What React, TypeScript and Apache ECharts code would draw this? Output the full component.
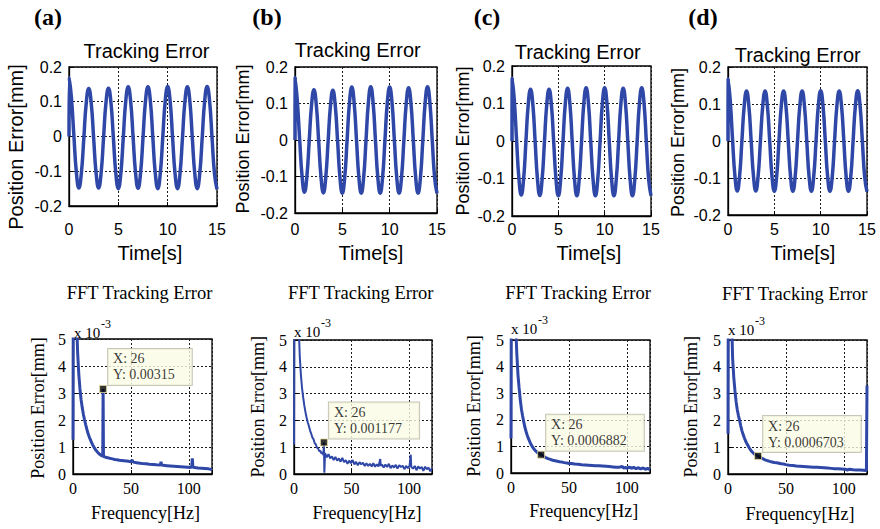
import React, { useEffect, useRef } from 'react';
import * as echarts from 'echarts';

// ---------- DATA ----------
const PANEL_LETTERS = ['(a)', '(b)', '(c)', '(d)'];
const TOP_TITLE = 'Tracking Error';
const BOTTOM_TITLE = 'FFT Tracking Error';
const TOP_Y_NAME = 'Position Error[mm]';
const TOP_X_NAME = 'Time[s]';
const BOTTOM_Y_NAME = 'Position Error[mm]';
const BOTTOM_X_NAME = 'Frequency[Hz]';
const SCALE_TEXT = 'x 10';
const SCALE_EXP = '-3';

// time-domain error, sampled every 0.25 s starting at t = 0.25 s (mm)
const TIME_STEP = 0.25;
const START_SPIKE = [0.17, 0.172, 0.168, 0.168];
const ERR_A = [
  0.11, 0.0, -0.104, -0.148, -0.106, -0.006, 0.097, 0.138, 0.097, -0.006, -0.106, -0.148,
  -0.106, -0.005, 0.098, 0.139, 0.098, -0.005, -0.107, -0.15, -0.107, -0.004, 0.101, 0.143,
  0.101, -0.004, -0.106, -0.149, -0.106, -0.004, 0.101, 0.143, 0.101, -0.005, -0.107, -0.15,
  -0.107, -0.004, 0.102, 0.144, 0.102, -0.004, -0.107, -0.15, -0.107, -0.004, 0.101, 0.143,
  0.101, -0.005, -0.107, -0.15, -0.107, -0.004, 0.102, 0.144, 0.102, -0.005, -0.108, -0.152,
];
const ERR_B = [
  0.105, -0.002, -0.1, -0.143, -0.101, -0.003, 0.096, 0.138, 0.096, -0.003, -0.102, -0.145,
  -0.102, -0.003, 0.095, 0.136, 0.095, -0.003, -0.103, -0.146, -0.103, -0.002, 0.101, 0.145,
  0.101, -0.002, -0.103, -0.146, -0.103, -0.002, 0.102, 0.146, 0.102, -0.002, -0.103, -0.146,
  -0.103, -0.002, 0.102, 0.145, 0.102, -0.002, -0.103, -0.146, -0.103, -0.002, 0.1, 0.143,
  0.1, -0.002, -0.103, -0.146, -0.103, -0.002, 0.102, 0.146, 0.102, -0.002, -0.103, -0.146,
];
const ERR_C = [
  0.108, 0.0, -0.101, -0.144, -0.102, -0.003, 0.097, 0.138, 0.097, -0.003, -0.102, -0.145,
  -0.102, -0.003, 0.097, 0.138, 0.097, -0.003, -0.103, -0.146, -0.103, -0.003, 0.099, 0.141,
  0.099, -0.003, -0.103, -0.146, -0.103, -0.003, 0.1, 0.142, 0.1, -0.003, -0.103, -0.146,
  -0.103, -0.003, 0.1, 0.142, 0.1, -0.003, -0.103, -0.146, -0.103, -0.003, 0.099, 0.141,
  0.099, -0.003, -0.103, -0.146, -0.103, -0.003, 0.1, 0.142, 0.1, -0.003, -0.103, -0.146,
];
const ERR_D = [
  0.106, 0.0, -0.095, -0.135, -0.095, 0.0, 0.095, 0.135, 0.095, 0.0, -0.095, -0.135,
  -0.095, 0.0, 0.095, 0.135, 0.095, 0.0, -0.096, -0.136, -0.096, 0.0, 0.095, 0.135,
  0.095, 0.0, -0.096, -0.136, -0.096, 0.0, 0.095, 0.135, 0.095, 0.0, -0.096, -0.136,
  -0.096, 0.0, 0.096, 0.136, 0.096, 0.0, -0.096, -0.136, -0.096, 0.0, 0.095, 0.135,
  0.095, 0.0, -0.096, -0.136, -0.096, 0.0, 0.096, 0.136, 0.096, 0.0, -0.097, -0.137,
];
const TOP_ERRORS = [ERR_A, ERR_B, ERR_C, ERR_D];

// FFT magnitude, [frequency Hz, value x 1e-3 mm]
const FFT_A = [
  [0, 1.27], [0.5, 12], [1, 14], [2, 9], [3, 5.8], [4, 4.5], [5, 3.7], [6, 3.15], [7, 2.75],
  [8, 2.45], [9, 2.2], [10, 2.0], [11, 1.82], [12, 1.65], [13, 1.5], [14, 1.38], [15, 1.27],
  [16, 1.17], [17, 1.08], [18, 1.0], [19, 0.93], [20, 0.87], [21, 0.82], [22, 0.77], [23, 0.73],
  [24, 0.7], [25, 0.67], [25.7, 0.66], [26, 3.15], [26.3, 0.65], [27, 0.64], [28, 0.62],
  [30, 0.6], [32, 0.58], [34, 0.56], [36, 0.54], [38, 0.53], [40, 0.51], [42, 0.5], [44, 0.49],
  [46, 0.48], [48, 0.47], [50, 0.45], [51, 0.52], [52, 0.44], [55, 0.42], [58, 0.4], [60, 0.39],
  [63, 0.38], [66, 0.36], [69, 0.35], [72, 0.34], [75.5, 0.33], [76, 0.45], [76.5, 0.33],
  [78, 0.32], [81, 0.31], [84, 0.3], [87, 0.29], [90, 0.28], [93, 0.27], [96, 0.26], [99, 0.25],
  [102.5, 0.25], [103, 0.58], [103.5, 0.25], [105, 0.24], [108, 0.22], [111, 0.21], [114, 0.2],
  [117, 0.19], [120, 0.17],
];
const FFT_B = [
  [0, 1.1], [0.5, 10], [1, 12], [2, 10], [3, 7.5], [4, 5.6], [5, 4.4], [6, 3.7], [7, 3.2],
  [8, 2.85], [9, 2.55], [10, 2.3], [11, 2.1], [12, 1.92], [13, 1.78], [14, 1.62], [15, 1.5],
  [16, 1.36], [17, 1.3], [18, 1.15], [19, 1.1], [20, 0.98], [21, 0.95], [22, 0.85], [23, 0.86],
  [24, 0.76], [25, 0.8], [25.6, 0.7], [26, 1.177], [26.4, 0.05], [27, 0.78], [28.5, 0.62],
  [30, 0.74], [31.5, 0.58], [33, 0.66], [34.5, 0.52], [36, 0.64], [37.5, 0.5], [39, 0.58],
  [40.5, 0.46], [42, 0.6], [43.5, 0.44], [45, 0.52], [46.5, 0.38], [48, 0.5], [49.5, 0.4],
  [51, 0.52], [52.5, 0.36], [54, 0.45], [55.5, 0.33], [57, 0.44], [58.5, 0.36], [60, 0.42],
  [61.5, 0.3], [63, 0.4], [64.5, 0.3], [66, 0.38], [67.5, 0.28], [69, 0.4], [70.5, 0.27],
  [72, 0.36], [73.5, 0.28], [75, 0.56], [75.5, 0.3], [76.5, 0.36], [78, 0.24], [79.5, 0.35],
  [81, 0.26], [82.5, 0.38], [84, 0.22], [85.5, 0.32], [87, 0.24], [88.5, 0.34], [90, 0.2],
  [91.5, 0.33], [93, 0.26], [94.5, 0.31], [96, 0.18], [97.5, 0.3], [99, 0.22], [100.5, 0.3],
  [101.5, 0.72], [102, 0.26], [103.5, 0.2], [105, 0.3], [106.5, 0.14], [108, 0.28],
  [109.5, 0.2], [111, 0.26], [112.5, 0.12], [114, 0.27], [115.5, 0.18], [117, 0.24],
  [118.5, 0.1], [120, 0.22],
];
const FFT_C = [
  [0, 1.3], [0.5, 11], [1, 13], [2, 10], [3, 7.5], [4, 5.6], [5, 4.5], [6, 3.7], [7, 3.2],
  [8, 2.75], [9, 2.4], [10, 2.15], [11, 1.92], [12, 1.72], [13, 1.56], [14, 1.42], [15, 1.3],
  [16, 1.2], [17, 1.1], [18, 1.02], [19, 0.95], [20, 0.89], [21, 0.84], [22, 0.8], [23, 0.76],
  [24, 0.73], [25, 0.71], [26, 0.688], [27, 0.66], [28, 0.63], [30, 0.58], [32, 0.54],
  [34, 0.51], [36, 0.48], [38, 0.46], [40, 0.44], [42, 0.42], [44, 0.41], [46, 0.39],
  [48, 0.38], [50, 0.36], [52, 0.36], [55, 0.34], [58, 0.33], [61, 0.31], [64, 0.3],
  [67, 0.29], [70, 0.28], [73, 0.27], [76, 0.27], [79, 0.26], [82, 0.25], [85, 0.24],
  [88, 0.23], [91, 0.22], [94, 0.22], [96, 0.25], [97, 0.19], [99, 0.21], [100, 0.17],
  [102, 0.22], [104, 0.18], [106, 0.21], [108, 0.16], [110, 0.2], [112, 0.15], [114, 0.19],
  [116, 0.14], [118, 0.17], [120, 0.13],
];
const FFT_D = [
  [0, 1.5], [0.5, 12], [1, 14], [2, 9.5], [3, 6], [4, 4.3], [5, 3.6], [6, 3.1], [7, 2.7],
  [8, 2.4], [9, 2.18], [10, 2.0], [11, 1.8], [12, 1.62], [13, 1.48], [14, 1.36], [15, 1.25],
  [16, 1.16], [17, 1.08], [18, 1.0], [19, 0.93], [20, 0.87], [21, 0.82], [22, 0.78], [23, 0.74],
  [24, 0.71], [25, 0.69], [26, 0.6703], [27, 0.65], [28, 0.62], [30, 0.57], [32, 0.53],
  [34, 0.5], [36, 0.47], [38, 0.45], [40, 0.43], [42, 0.42], [44, 0.4], [46, 0.38], [48, 0.37],
  [50, 0.35], [53, 0.33], [56, 0.32], [59, 0.3], [62, 0.29], [65, 0.28], [68, 0.27], [71, 0.26],
  [74, 0.25], [77, 0.25], [80, 0.24], [83, 0.23], [86, 0.22], [89, 0.21], [92, 0.2], [95, 0.2],
  [98, 0.19], [101, 0.18], [103, 0.15], [105, 0.18], [108, 0.16], [111, 0.15], [114, 0.15],
  [117, 0.14], [119.5, 0.13], [120, 3.3],
];
const FFT_DATA = [FFT_A, FFT_B, FFT_C, FFT_D];

// data tips (X in Hz, Y in mm)
const TIP_X = [26, 26, 26, 26];
const TIP_Y = [0.00315, 0.001177, 0.0006882, 0.0006703];

// ---------- LAYOUT ----------
const SANS = "'Liberation Sans', Arial, Helvetica, sans-serif";
const SERIF = "'Liberation Serif', 'Times New Roman', Times, serif";
const BLUE = '#2f48a8';

const TOP_GRIDS = [
  { left: 69, top: 67, width: 148, height: 139, xMargin: 15 },
  { left: 295, top: 67, width: 142, height: 146, xMargin: 8 },
  { left: 512, top: 66, width: 139, height: 150, xMargin: 5 },
  { left: 728, top: 67, width: 139, height: 148, xMargin: 6 },
];
const BOTTOM_GRIDS = [
  { left: 73, top: 339, width: 139, height: 135 },
  { left: 294, top: 340, width: 138, height: 134 },
  { left: 511, top: 340, width: 139, height: 133 },
  { left: 728, top: 340, width: 139, height: 134 },
];
const LETTER_POS = [[48, 17], [267, 17], [487, 17], [703, 17]];
const TOP_TITLE_POS = [[146.5, 51], [357.7, 49.5], [577.7, 52], [797.7, 54.5]];
const TOP_YNAME_POS = [[15.5, 147, 20], [242.5, 139, 18], [462.5, 141, 18], [677.5, 142.5, 18]];
const TOP_XNAME_POS = [[150, 253], [371, 253], [589, 253], [803, 253]];
const BOT_TITLE_POS = [[139.5, 292.5], [360.7, 292.5], [578, 292.5], [794.7, 294]];
const BOT_YNAME_POS = [[37.5, 408], [258, 406.7], [474, 406], [690.5, 406.7]];
const BOT_XNAME_POS = [[145.5, 513], [367, 513], [583.7, 511], [800, 514]];
const SCALE_POS = [[74, 332.5], [294, 332], [511, 329], [728, 330]];

function topSeriesData(spike: number, values: number[]) {
  const pts: number[][] = [[0, 0], [0.02, spike]];
  values.forEach((v, i) => pts.push([(i + 1) * TIME_STEP, v]));
  return pts;
}

function txt(x: number, y: number, text: string, font: string, size: number, opts: any = {}) {
  return {
    type: 'text',
    x,
    y,
    rotation: opts.rotation || 0,
    silent: true,
    style: {
      text,
      fontFamily: font,
      fontSize: size,
      fontWeight: opts.bold ? 'bold' : 'normal',
      fill: '#000',
      align: opts.align || 'center',
      textAlign: opts.align || 'center',
      verticalAlign: 'middle',
      textVerticalAlign: 'middle',
    },
  };
}

function buildOption() {
  const grid: any[] = [];
  const xAxis: any[] = [];
  const yAxis: any[] = [];
  const series: any[] = [];
  const elements: any[] = [];

  const gridLine = { show: true, lineStyle: { color: '#1a1a1a', type: [2, 2], width: 1 } };
  const axisLine = { show: true, onZero: false, lineStyle: { color: '#000', width: 1.3 } };
  const axisTick = { show: true, inside: true, length: 4, lineStyle: { color: '#000', width: 1 } };

  TOP_GRIDS.forEach((g, i) => {
    grid.push({ left: g.left, top: g.top, width: g.width, height: g.height, show: true, borderColor: '#000', borderWidth: 1.3, backgroundColor: '#fff' });
    xAxis.push({
      gridIndex: i, type: 'value', min: 0, max: 15, interval: 5,
      axisLine, axisTick, splitLine: gridLine,
      axisLabel: { color: '#000', fontFamily: SANS, fontSize: 16, margin: g.xMargin },
    });
    yAxis.push({
      gridIndex: i, type: 'value', min: -0.2, max: 0.2, interval: 0.1,
      axisLine, axisTick, splitLine: gridLine,
      axisLabel: {
        color: '#000', fontFamily: SANS, fontSize: 16, margin: 7,
        formatter: (v: number) => (Math.abs(v) < 1e-9 ? '0' : String(Number(v.toFixed(1)))),
      },
    });
    series.push({
      type: 'line', xAxisIndex: i, yAxisIndex: i,
      data: topSeriesData(START_SPIKE[i], TOP_ERRORS[i]),
      smooth: 0.5, showSymbol: false, symbol: 'none', silent: true,
      lineStyle: { color: BLUE, width: 3.5 },
    });
  });

  BOTTOM_GRIDS.forEach((g, j) => {
    const i = j + 4;
    grid.push({ left: g.left, top: g.top, width: g.width, height: g.height, show: true, borderColor: '#000', borderWidth: 1.3, backgroundColor: '#fff' });
    xAxis.push({
      gridIndex: i, type: 'value', min: 0, max: 120, interval: 50,
      axisLine, axisTick, splitLine: gridLine,
      axisLabel: {
        color: '#000', fontFamily: SERIF, fontSize: 16, margin: 6,
        formatter: (v: number) => (v % 50 === 0 ? String(v) : ''),
      },
    });
    yAxis.push({
      gridIndex: i, type: 'value', min: 0, max: 5, interval: 1,
      axisLine, axisTick, splitLine: gridLine,
      axisLabel: { color: '#000', fontFamily: SERIF, fontSize: 16, margin: 7 },
    });
    series.push({
      type: 'line', xAxisIndex: i, yAxisIndex: i,
      data: FFT_DATA[j],
      showSymbol: false, symbol: 'none', silent: true, clip: true,
      lineStyle: { color: BLUE, width: j === 1 ? 2 : 3 },
    });
    series.push({
      type: 'scatter', xAxisIndex: i, yAxisIndex: i, silent: true, z: 5,
      data: [[TIP_X[j], TIP_Y[j] * 1000]],
      symbol: 'rect', symbolSize: 7,
      itemStyle: { color: '#000', borderColor: '#e6dc9c', borderWidth: 1 },
      label: {
        show: true, position: 'right', distance: 1, offset: [0, -22],
        formatter: () => `X: ${TIP_X[j]}\nY: ${TIP_Y[j]}`,
        fontFamily: SERIF, fontSize: 14, lineHeight: 16, color: '#000',
        backgroundColor: '#fbfbe6', borderColor: '#b9b9a6', borderWidth: 1,
        padding: [2, 17, 2, 5], align: 'left', verticalAlign: 'middle',
      },
    });
  });

  for (let k = 0; k < 4; k++) {
    elements.push(txt(LETTER_POS[k][0], LETTER_POS[k][1], PANEL_LETTERS[k], SERIF, 24, { bold: true }));
    elements.push(txt(TOP_TITLE_POS[k][0], TOP_TITLE_POS[k][1], TOP_TITLE, SANS, 20));
    elements.push(txt(TOP_YNAME_POS[k][0], TOP_YNAME_POS[k][1], TOP_Y_NAME, SANS, TOP_YNAME_POS[k][2], { rotation: Math.PI / 2 }));
    elements.push(txt(TOP_XNAME_POS[k][0], TOP_XNAME_POS[k][1], TOP_X_NAME, SANS, 20));
    elements.push(txt(BOT_TITLE_POS[k][0], BOT_TITLE_POS[k][1], BOTTOM_TITLE, SERIF, 18.5));
    elements.push(txt(BOT_YNAME_POS[k][0], BOT_YNAME_POS[k][1], BOTTOM_Y_NAME, SERIF, 18));
    elements[elements.length - 1].rotation = Math.PI / 2;
    elements.push(txt(BOT_XNAME_POS[k][0], BOT_XNAME_POS[k][1], BOTTOM_X_NAME, SERIF, 18));
    elements.push(txt(SCALE_POS[k][0], SCALE_POS[k][1], SCALE_TEXT, SERIF, 15, { align: 'left' }));
    elements.push(txt(SCALE_POS[k][0] + 27, SCALE_POS[k][1] - 9, SCALE_EXP, SERIF, 12, { align: 'left' }));
  }

  return {
    animation: false,
    backgroundColor: '#fff',
    grid, xAxis, yAxis, series,
    graphic: { elements },
  };
}

export default function App() {
  const ref = useRef<HTMLDivElement>(null);
  useEffect(() => {
    if (!ref.current) return;
    const chart = echarts.init(ref.current, null, { renderer: 'svg' });
    chart.setOption(buildOption() as any);
    return () => chart.dispose();
  }, []);
  return (
    <div
      ref={ref}
      style={{ position: 'fixed', left: 0, top: 0, width: 880, height: 529, background: '#fff' }}
    />
  );
}
